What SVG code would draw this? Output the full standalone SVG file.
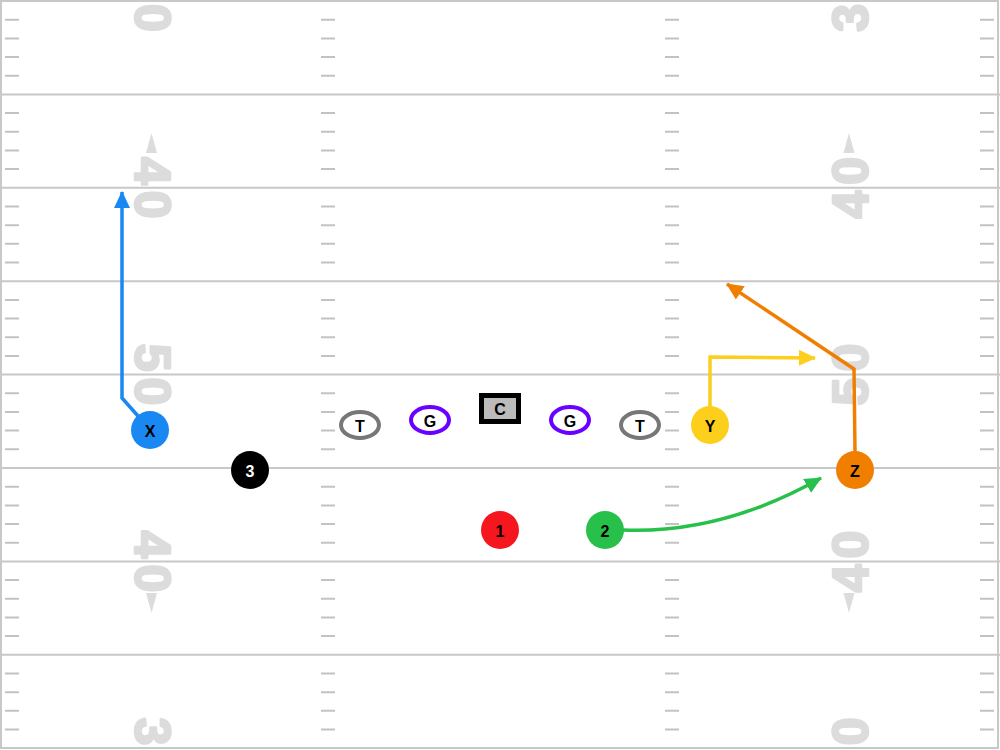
<svg xmlns="http://www.w3.org/2000/svg" xmlns:xlink="http://www.w3.org/1999/xlink" width="1000" height="750" viewBox="0 0 1000 750">
<style>
.yl{stroke:#c8c8c8;stroke-width:2;fill:none}
.hash{stroke:#c2c2c2;stroke-width:2;fill:none}
.num{font-family:"Liberation Sans",Arial,sans-serif;font-weight:bold;font-size:50px;fill:#dcdcdc;stroke:#dcdcdc;stroke-width:2.5;stroke-linejoin:round;letter-spacing:6px}
.tri{fill:#dcdcdc}
.route{fill:none;stroke-width:3.5;stroke-linejoin:miter}
.lbl{font-family:"Liberation Sans",Arial,sans-serif;font-weight:bold;font-size:16px;text-anchor:middle;dominant-baseline:central}
</style>
<defs>
<path id="hcol" class="hash" d="M0 19.7h14M0 38.4h14M0 57h14M0 75.7h14M0 113.1h14M0 131.8h14M0 150.4h14M0 169.1h14M0 206.5h14M0 225.2h14M0 243.8h14M0 262.5h14M0 299.9h14M0 318.6h14M0 337.2h14M0 355.9h14M0 393.3h14M0 412h14M0 430.6h14M0 449.3h14M0 486.7h14M0 505.4h14M0 524h14M0 542.7h14M0 580.1h14M0 598.8h14M0 617.4h14M0 636.1h14M0 673.5h14M0 692.2h14M0 710.8h14M0 729.5h14"/>
<marker id="aBlue" markerUnits="userSpaceOnUse" markerWidth="18" markerHeight="18" viewBox="0 0 18 18" refX="16" refY="9" orient="auto"><path d="M0 1L17 9L0 17z" fill="#1a88f2"/></marker>
<marker id="aYel" markerUnits="userSpaceOnUse" markerWidth="18" markerHeight="18" viewBox="0 0 18 18" refX="16" refY="9" orient="auto"><path d="M0 1L17 9L0 17z" fill="#fccf1c"/></marker>
<marker id="aOr" markerUnits="userSpaceOnUse" markerWidth="18" markerHeight="18" viewBox="0 0 18 18" refX="16" refY="9" orient="auto"><path d="M0 1L17 9L0 17z" fill="#f07f00"/></marker>
<marker id="aGr" markerUnits="userSpaceOnUse" markerWidth="18" markerHeight="18" viewBox="0 0 18 18" refX="16" refY="9" orient="auto"><path d="M0 1L17 9L0 17z" fill="#27c04a"/></marker>
</defs>

<g id="field">
<rect x="0" y="0" width="1000" height="750" fill="#ffffff"/>
<rect class="yl" x="1" y="1" width="997" height="747"/>
<path class="yl" d="M0 94.4H1000M0 187.8H1000M0 281.2H1000M0 374.6H1000M0 468H1000M0 561.4H1000M0 654.8H1000"/>
<use xlink:href="#hcol" x="5"/>
<use xlink:href="#hcol" x="321"/>
<use xlink:href="#hcol" x="665"/>
<use xlink:href="#hcol" x="980"/>
</g>

<g id="yard-numbers">
<text class="num" transform="translate(153,1) rotate(90)" x="3" y="18" text-anchor="middle">30</text>
<text class="num" transform="translate(153,187.8) rotate(90)" x="3" y="18" text-anchor="middle">40</text>
<text class="num" transform="translate(153,374.6) rotate(90)" x="3" y="18" text-anchor="middle">50</text>
<text class="num" transform="translate(153,561.4) rotate(90)" x="3" y="18" text-anchor="middle">40</text>
<text class="num" transform="translate(153,748.2) rotate(90)" x="3" y="18" text-anchor="middle">30</text>
<text class="num" transform="translate(850,1) rotate(-90)" x="3" y="18" text-anchor="middle">30</text>
<text class="num" transform="translate(850,187.8) rotate(-90)" x="3" y="18" text-anchor="middle">40</text>
<text class="num" transform="translate(850,374.6) rotate(-90)" x="3" y="18" text-anchor="middle">50</text>
<text class="num" transform="translate(850,561.4) rotate(-90)" x="3" y="18" text-anchor="middle">40</text>
<text class="num" transform="translate(850,748.2) rotate(-90)" x="3" y="18" text-anchor="middle">30</text>
<path class="tri" d="M151.5 133L157 153H146z"/>
<path class="tri" d="M151.5 613L157 593H146z"/>
<path class="tri" d="M849 133L854.5 153H843.5z"/>
<path class="tri" d="M849 613L854.5 593H843.5z"/>
</g>

<g id="connectors">
<path class="route" stroke="#1a88f2" d="M138 416L122 398V192" marker-end="url(#aBlue)"/>
<path class="route" stroke="#fccf1c" d="M710 407V357L815 358" marker-end="url(#aYel)"/>
<path class="route" stroke="#f07f00" d="M855 452L854 369L727 284" marker-end="url(#aOr)"/>
<path class="route" stroke="#27c04a" d="M623 530Q722 534 821 478" marker-end="url(#aGr)"/>
</g>

<g id="node-X"><circle cx="150" cy="430" r="19" fill="#1a88f2"/><text class="lbl" x="150" y="431" fill="#000">X</text></g>
<g id="node-3"><circle cx="250" cy="470" r="19" fill="#000"/><text class="lbl" x="250" y="471" fill="#fff">3</text></g>
<g id="node-T1"><ellipse cx="360" cy="425" rx="19" ry="13" fill="#fff" stroke="#777" stroke-width="4"/><text class="lbl" x="360" y="426" fill="#000">T</text></g>
<g id="node-G1"><ellipse cx="430" cy="420" rx="19" ry="13" fill="#fff" stroke="#6a00ff" stroke-width="4"/><text class="lbl" x="430" y="421" fill="#000">G</text></g>
<g id="node-C"><rect x="481.5" y="395.5" width="37" height="26" fill="#bbbbbb" stroke="#000" stroke-width="5"/><text class="lbl" x="500" y="409" fill="#000">C</text></g>
<g id="node-G2"><ellipse cx="570" cy="420" rx="19" ry="13" fill="#fff" stroke="#6a00ff" stroke-width="4"/><text class="lbl" x="570" y="421" fill="#000">G</text></g>
<g id="node-T2"><ellipse cx="640" cy="425" rx="19" ry="13" fill="#fff" stroke="#777" stroke-width="4"/><text class="lbl" x="640" y="426" fill="#000">T</text></g>
<g id="node-Y"><circle cx="710" cy="425" r="19" fill="#fccf1c"/><text class="lbl" x="710" y="426" fill="#000">Y</text></g>
<g id="node-Z"><circle cx="855" cy="470" r="19" fill="#f07f00"/><text class="lbl" x="855" y="471" fill="#000">Z</text></g>
<g id="node-1"><circle cx="500" cy="530" r="19" fill="#f5161e"/><text class="lbl" x="500" y="531" fill="#000">1</text></g>
<g id="node-2"><circle cx="605" cy="530" r="19" fill="#27c04a"/><text class="lbl" x="605" y="531" fill="#000">2</text></g>
</svg>
